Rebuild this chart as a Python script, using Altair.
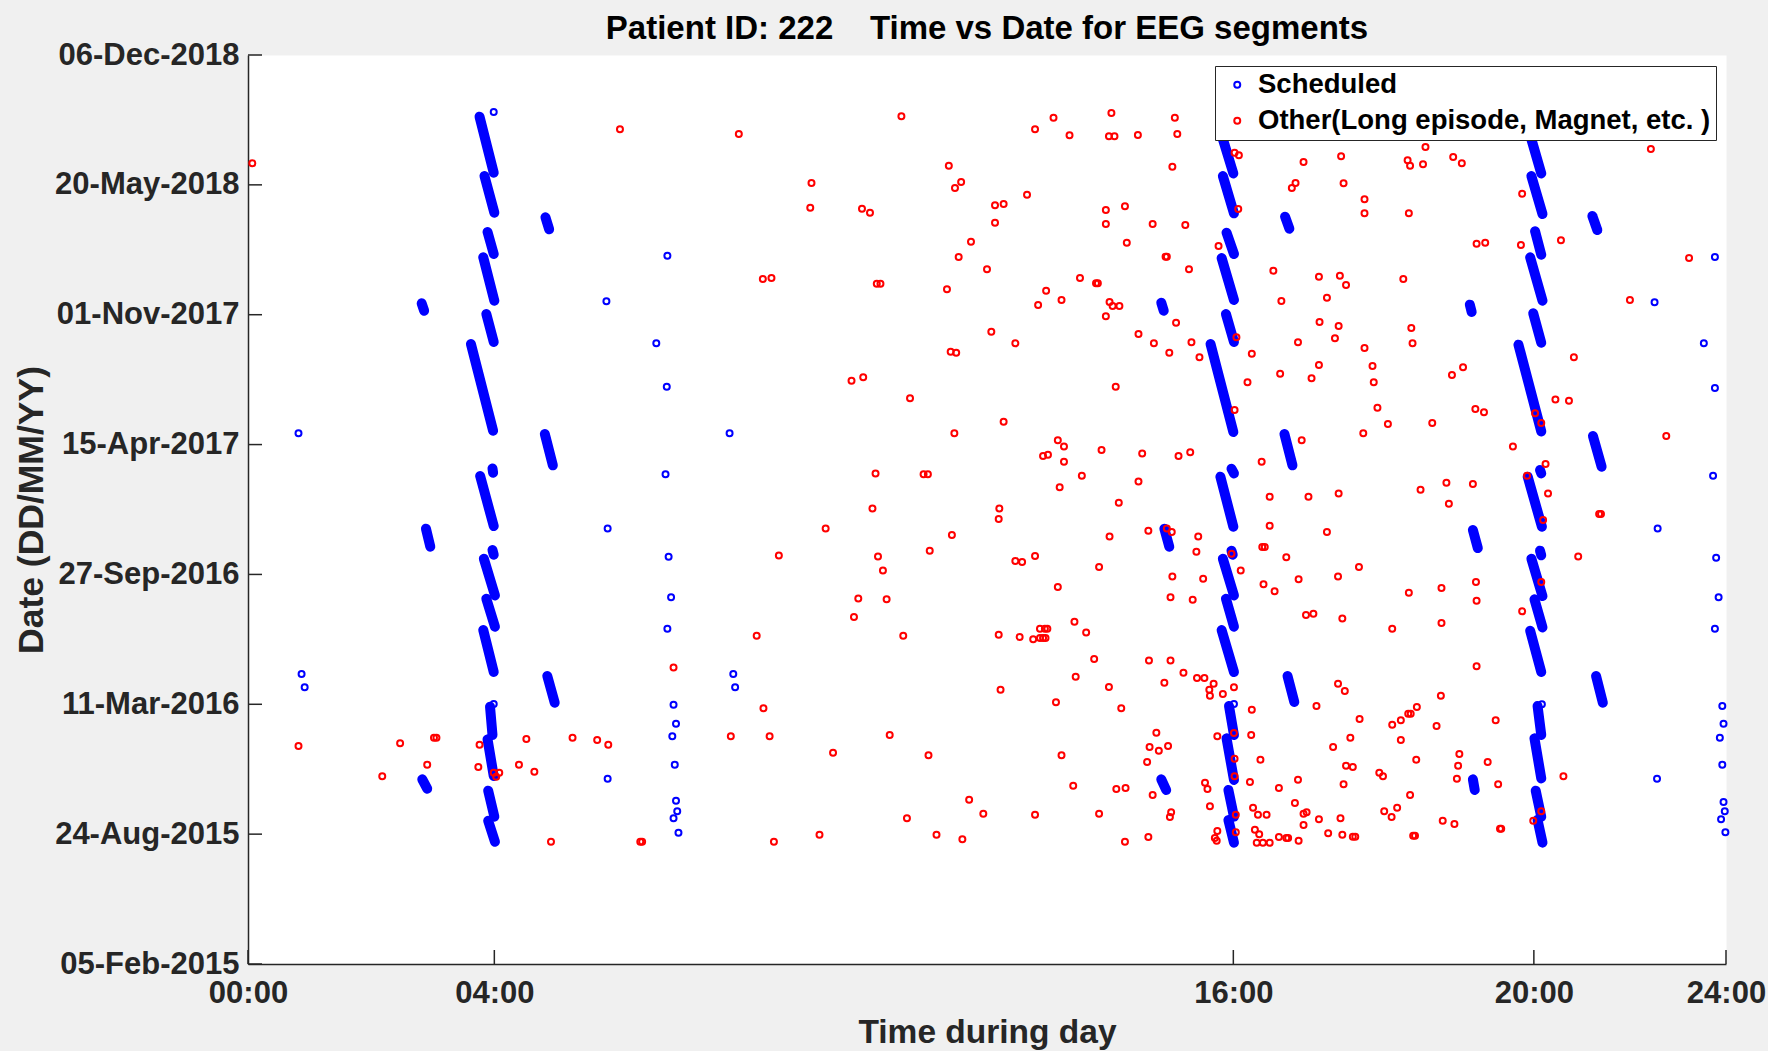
import altair as alt
import pandas as pd

# ---------------- data ----------------
# time of day in hours (0-24), date as days after 05-Feb-2015
START_DATE = "2015-02-05"

# "Scheduled" single recordings: (hour, day)
sched_points = [
    (3.99, 1312.2), (5.82, 1020.6), (6.81, 1090.9), (6.63, 955.9), (23.82, 1088.9),
    (22.84, 1019.1), (23.64, 955.9), (0.82, 817.3), (5.84, 670.9), (0.87, 446.6),
    (6.80, 889.1), (7.82, 817.3), (6.78, 754.1), (6.83, 627.3), (6.87, 564.7),
    (6.81, 516.4), (7.88, 446.6), (23.82, 887.1), (23.79, 752.0), (22.89, 670.9),
    (23.84, 625.8), (23.88, 564.7), (23.82, 516.4), (0.92, 426.1), (3.99, 400.4),
    (5.84, 285.4), (7.91, 426.1), (6.91, 399.4), (6.95, 370.1), (6.89, 350.6),
    (6.93, 307.0), (6.95, 251.5), (6.97, 235.1), (6.91, 224.3), (6.99, 202.3),
    (16.01, 400.4), (21.01, 399.9), (23.94, 397.4), (23.96, 370.1), (23.90, 348.6),
    (23.94, 307.0), (22.88, 285.4), (23.96, 249.5), (23.98, 235.1), (23.92, 222.8),
    (23.99, 202.8),
]

# "Scheduled" daily runs that merge into streaks: (hour1, day1, hour2, day2)
sched_streaks = [
    (3.76, 1305.0, 3.99, 1218.8), (3.84, 1213.6, 4.00, 1157.2), (3.89, 1127.4, 3.99, 1093.5),
    (3.82, 1088.4, 4.00, 1021.6), (3.87, 1001.1, 3.99, 958.0), (3.62, 954.9, 3.98, 821.4),
    (4.83, 1150.0, 4.89, 1131.5), (2.82, 1017.5, 2.86, 1006.2),
    (15.81, 1276.8, 16.00, 1217.7), (15.83, 1213.6, 16.01, 1156.1), (15.89, 1126.4, 16.01, 1093.5),
    (15.81, 1087.3, 16.01, 1022.7), (15.88, 1001.1, 16.01, 958.0), (15.63, 954.9, 16.00, 819.3),
    (14.83, 1018.5, 14.87, 1006.2), (16.84, 1151.0, 16.91, 1132.5),
    (20.82, 1276.8, 21.00, 1217.7), (20.84, 1213.6, 21.02, 1155.1), (20.90, 1128.4, 21.00, 1092.5),
    (20.82, 1088.4, 21.02, 1021.6), (20.87, 1002.1, 21.00, 956.9), (20.63, 953.9, 21.00, 820.3),
    (21.83, 1152.0, 21.91, 1130.5), (19.84, 1015.5, 19.87, 1004.2),
    (4.82, 816.2, 4.95, 768.0), (3.97, 763.3, 3.98, 756.7), (3.77, 751.5, 3.99, 674.5),
    (2.89, 670.4, 2.96, 642.7), (3.97, 637.6, 3.99, 630.4), (3.83, 624.2, 4.01, 567.7),
    (3.87, 562.6, 4.01, 519.5), (3.82, 514.3, 3.99, 449.7), (4.86, 443.6, 4.98, 402.5),
    (16.83, 816.2, 16.96, 768.0), (15.97, 762.8, 16.01, 755.6), (15.79, 750.5, 16.00, 673.5),
    (14.88, 670.4, 14.96, 642.7), (15.97, 636.6, 15.99, 630.4), (15.83, 624.2, 16.01, 567.7),
    (15.88, 562.6, 16.01, 519.5), (15.81, 514.3, 16.01, 449.7), (16.88, 443.6, 16.99, 403.5),
    (21.84, 813.1, 21.98, 765.9), (20.98, 760.8, 21.00, 755.6), (20.78, 750.5, 21.01, 673.5),
    (19.89, 668.4, 19.97, 640.6), (20.98, 636.6, 21.00, 629.4), (20.84, 624.2, 21.02, 566.7),
    (20.89, 561.6, 21.02, 518.4), (20.82, 513.3, 21.00, 449.7), (21.89, 443.6, 22.00, 402.5),
    (3.93, 396.3, 3.97, 352.7), (3.89, 346.0, 3.99, 289.5), (3.90, 267.0, 4.00, 226.9),
    (3.90, 220.7, 4.01, 188.4), (2.83, 284.4, 2.91, 270.0),
    (14.83, 284.4, 14.91, 268.0), (15.93, 397.4, 16.01, 352.7), (15.89, 347.6, 16.01, 283.4),
    (15.92, 268.0, 16.01, 226.9), (15.92, 221.8, 16.01, 186.9),
    (19.89, 284.4, 19.92, 268.0), (20.94, 397.4, 21.00, 352.7), (20.89, 347.6, 21.00, 285.9),
    (20.91, 267.0, 21.00, 226.9), (20.94, 221.8, 21.02, 186.9),
]

# "Other" recordings: (hour, day)
other_points = [
    (0.07, 1233.1),
    (6.04, 1285.5), (7.97, 1278.3), (10.61, 1305.5), (11.38, 1229.6), (11.58, 1204.4),
    (11.48, 1195.2), (9.15, 1202.9), (9.13, 1164.9), (9.97, 1163.3), (10.10, 1157.2),
    (11.54, 1088.9), (8.36, 1055.0), (8.50, 1056.5), (10.21, 1047.8), (10.27, 1047.8),
    (11.35, 1039.1), (11.41, 943.1), (11.50, 941.5),
    (12.78, 1285.5), (13.08, 1303.5), (13.34, 1276.3), (14.02, 1310.7), (13.98, 1274.7),
    (14.07, 1274.7), (14.45, 1276.8), (15.05, 1303.5), (15.09, 1278.3), (15.01, 1228.0),
    (16.02, 1249.6), (16.09, 1245.5), (17.14, 1235.2), (17.01, 1202.9), (16.95, 1195.2),
    (12.65, 1184.9), (12.13, 1168.5), (12.27, 1170.5), (12.13, 1141.8), (11.74, 1112.5),
    (13.93, 1161.3), (14.24, 1166.9), (13.93, 1139.7), (14.69, 1139.7), (15.22, 1138.2),
    (16.08, 1162.8), (14.27, 1111.0), (14.90, 1089.4), (14.92, 1089.4), (15.76, 1105.8),
    (12.00, 1069.9), (15.28, 1069.9), (16.65, 1067.8), (17.39, 1058.6), (17.40, 988.8),
    (17.05, 957.4), (17.39, 922.5), (13.51, 1056.5), (13.77, 1048.3), (13.80, 1048.3),
    (12.96, 1037.0), (13.21, 1022.7), (12.83, 1014.9), (13.99, 1019.6), (14.04, 1013.4),
    (14.15, 1013.4), (13.93, 997.5), (15.07, 987.7), (16.05, 965.1), (16.78, 1021.1),
    (12.07, 973.9), (12.46, 955.9), (14.46, 970.3), (14.71, 955.9), (14.96, 941.5),
    (15.32, 957.4), (15.45, 934.3), (16.30, 940.0),
    (17.75, 1243.9), (19.12, 1258.3), (18.83, 1237.8), (18.87, 1229.6), (19.08, 1231.6),
    (19.57, 1242.9), (19.71, 1233.1), (17.79, 1202.3), (18.13, 1177.7), (18.13, 1156.1),
    (18.85, 1156.1), (20.69, 1186.4), (22.78, 1255.2), (19.95, 1109.4), (20.09, 1111.0),
    (20.67, 1107.4), (21.32, 1114.5), (23.40, 1087.3), (17.73, 1060.1), (17.83, 1045.8),
    (17.52, 1026.2), (18.76, 1055.0), (17.71, 982.6), (17.65, 963.6), (18.89, 979.5),
    (18.91, 955.9), (18.13, 948.7), (18.26, 921.0), (19.73, 918.9), (21.53, 934.3),
    (22.44, 1022.7),
    (9.80, 898.4), (9.99, 903.5), (10.75, 871.2), (11.47, 817.3), (10.19, 755.6),
    (10.97, 754.1), (11.04, 754.1), (10.14, 701.7), (9.38, 670.9), (11.43, 660.7),
    (11.07, 636.5), (8.62, 629.3), (10.23, 627.8), (10.31, 606.2), (9.91, 563.1),
    (10.37, 561.6), (9.84, 534.4), (10.64, 505.6), (8.26, 505.6), (6.91, 456.8),
    (14.09, 889.1), (12.27, 835.2), (13.15, 806.5), (13.25, 797.2), (12.91, 782.3),
    (12.99, 784.4), (13.25, 773.6), (13.86, 791.6), (14.52, 786.4), (15.11, 782.3),
    (15.30, 788.0), (13.54, 752.0), (13.18, 734.1), (14.46, 743.3), (14.14, 710.5),
    (12.20, 701.7), (12.19, 685.3), (13.99, 658.6), (14.62, 667.3), (14.92, 670.9),
    (15.00, 665.3), (15.43, 658.6), (15.40, 635.0), (12.46, 620.6), (12.57, 619.1),
    (12.78, 628.3), (13.82, 611.4), (13.15, 580.6), (15.01, 597.0), (15.51, 593.4),
    (14.98, 564.7), (15.34, 561.1), (16.02, 853.2), (16.23, 895.8), (16.76, 909.2),
    (17.27, 902.0), (17.11, 806.5), (16.46, 773.6), (16.59, 719.7), (17.22, 719.7),
    (16.59, 675.0), (16.47, 642.2), (16.51, 642.2), (15.97, 631.9), (16.12, 606.2),
    (16.86, 626.3), (17.06, 592.4), (16.49, 584.7), (16.67, 573.9), (17.18, 537.4),
    (17.30, 539.5), (12.19, 507.2), (12.53, 503.6), (12.75, 500.0), (12.86, 516.4),
    (12.94, 516.4), (12.98, 516.4), (12.86, 502.0), (12.91, 502.0), (12.95, 502.0),
    (13.42, 527.2), (13.61, 510.7), (13.74, 469.7), (14.63, 467.6), (14.98, 467.6),
    (15.19, 448.6),
    (19.55, 907.1), (18.28, 895.8), (18.34, 856.8), (18.51, 831.6), (18.11, 817.3),
    (19.23, 833.2), (19.93, 854.7), (20.07, 849.6), (21.23, 869.6), (21.45, 867.6),
    (20.90, 848.1), (21.00, 833.2), (23.03, 813.1), (20.54, 797.2), (21.07, 770.0),
    (20.77, 752.0), (21.11, 724.8), (21.03, 683.8), (21.94, 693.0), (21.97, 693.0),
    (17.71, 724.8), (19.04, 730.5), (19.46, 741.3), (19.89, 739.2), (19.50, 708.9),
    (17.52, 665.3), (21.60, 627.8), (18.04, 611.4), (17.70, 597.0), (18.85, 571.8),
    (19.38, 579.0), (19.94, 588.3), (19.95, 559.5), (21.00, 588.3), (20.69, 543.1),
    (17.77, 532.3), (18.58, 516.4), (19.38, 525.1), (19.95, 458.4),
    (0.82, 335.7), (2.47, 339.9), (2.18, 289.0), (3.02, 348.6), (3.06, 348.6),
    (2.91, 307.0), (3.76, 337.8), (3.74, 303.4), (3.99, 294.7), (4.08, 294.7),
    (4.03, 288.5), (4.52, 346.5), (4.40, 307.0), (4.65, 296.2), (5.27, 348.6),
    (5.67, 345.0), (5.85, 337.8), (4.92, 188.4),
    (8.37, 393.8), (7.84, 350.6), (8.47, 350.6), (9.50, 325.5), (10.42, 352.7),
    (11.05, 321.4), (10.70, 224.3), (11.18, 199.2), (11.60, 192.0), (6.37, 188.4),
    (6.40, 188.4), (8.54, 188.4), (9.28, 199.2),
    (13.44, 442.5), (12.22, 422.5), (13.98, 426.6), (13.12, 403.0), (14.18, 393.8),
    (14.88, 433.3), (15.41, 440.5), (15.53, 440.5), (15.68, 431.8), (15.61, 422.5),
    (15.62, 413.3), (15.83, 415.8), (16.01, 426.1), (16.30, 391.7), (17.35, 397.4),
    (14.75, 356.3), (14.64, 334.2), (14.79, 328.6), (14.94, 335.7), (14.60, 311.1),
    (15.74, 350.6), (16.01, 355.8), (16.29, 352.7), (16.02, 316.2), (16.02, 289.0),
    (16.44, 314.7), (13.21, 321.4), (13.40, 274.6), (14.10, 269.5), (14.25, 271.1),
    (14.69, 260.3), (15.54, 279.3), (15.58, 269.5), (16.27, 280.3), (16.74, 271.1),
    (17.05, 283.9), (11.71, 253.1), (11.94, 231.5), (12.78, 230.0), (13.82, 231.5),
    (14.99, 233.6), (14.97, 226.4), (15.62, 242.8), (16.04, 230.0), (16.32, 240.8),
    (16.40, 230.0), (16.54, 230.0), (17.00, 248.0), (17.14, 231.5), (17.19, 233.6),
    (17.39, 222.8), (17.14, 214.1), (14.24, 188.4), (14.62, 195.6), (15.74, 204.8),
    (15.70, 194.0), (15.73, 190.0), (16.04, 202.8), (16.35, 206.9), (16.42, 199.7),
    (16.38, 186.9), (16.48, 186.9), (16.59, 186.9), (16.74, 195.6), (16.86, 194.0),
    (16.89, 194.0), (17.06, 190.0),
    (17.70, 431.8), (17.81, 420.5), (19.37, 413.3), (18.98, 395.8), (18.84, 385.5),
    (18.88, 385.5), (18.72, 375.3), (18.58, 368.6), (18.05, 377.3), (17.90, 348.6),
    (17.62, 334.2), (18.72, 345.0), (19.30, 366.5), (20.26, 375.3), (19.67, 323.4),
    (19.65, 305.5), (20.13, 311.1), (19.63, 285.4), (20.30, 276.7), (18.97, 314.7),
    (17.83, 305.5), (17.94, 303.4), (18.37, 294.7), (18.43, 289.0), (17.79, 276.7),
    (18.87, 260.3), (18.66, 240.8), (18.45, 235.1), (18.57, 226.4), (17.74, 224.3),
    (17.54, 201.2), (17.77, 199.2), (17.94, 196.1), (17.98, 196.1), (18.92, 197.6),
    (18.95, 197.6), (19.40, 220.7), (19.59, 215.6), (20.33, 208.4), (20.35, 208.4),
    (21.36, 289.0), (21.00, 235.1), (20.87, 220.7),
]

series_names = ["Scheduled", "Other(Long episode, Magnet, etc. )"]
series_colors = ["#0000ff", "#ff0000"]

date_ticks = ["2015-02-05", "2015-08-24", "2016-03-11", "2016-09-27",
              "2017-04-15", "2017-11-01", "2018-05-20", "2018-12-06"]
x_tick_vals = [0, 4, 16, 20.88, 24]
x_tick_labels = ["00:00", "04:00", "16:00", "20:00", "24:00"]

title_text = "Patient ID: 222\u00a0\u00a0\u00a0\u00a0Time vs Date for EEG segments"
x_title = "Time during day"
y_title = "Date (DD/MM/YY)"

# ---------------- tables ----------------
base = pd.Timestamp(START_DATE, tz="UTC")


def iso(days):
    return (base + pd.to_timedelta(days, unit="D")).strftime("%Y-%m-%dT%H:%M:%SZ")


def ms(s):
    return int(pd.Timestamp(s, tz="UTC").value // 10**6)


pts = pd.DataFrame(
    [{"hour": h, "date": iso(d), "series": series_names[0]} for h, d in sched_points]
    + [{"hour": h, "date": iso(d), "series": series_names[1]} for h, d in other_points]
)
segs = pd.DataFrame(
    [{"hour": h1, "date": iso(d1), "hour2": h2, "date2": iso(d2)} for h1, d1, h2, d2 in sched_streaks]
)
xt = pd.DataFrame({"hour": x_tick_vals})
yt = pd.DataFrame({"date": [pd.Timestamp(s, tz="UTC").strftime("%Y-%m-%dT%H:%M:%SZ") for s in date_ticks]})
tt = pd.DataFrame({"t": [title_text]})

FONT = "Liberation Sans"
AX = "#262626"
W, H = 1478, 909

x_scale = alt.Scale(domain=[0, 24], nice=False, zero=False)
y_scale = alt.Scale(type="utc", domain=[ms(date_ticks[0]), ms(date_ticks[-1])], nice=False)

x_label_expr = "[{}][indexof([{}], datum.value)]".format(
    ",".join("'%s'" % s for s in x_tick_labels), ",".join(str(v) for v in x_tick_vals)
)
y_label_expr = "utcFormat(datum.value, '%d-%b-%Y')"

x_axis = alt.Axis(
    values=x_tick_vals, labelExpr=x_label_expr, ticks=False, grid=False,
    domainColor=AX, domainWidth=1.5, labelFont=FONT, labelFontSize=31,
    labelFontWeight="bold", labelColor=AX, labelPadding=14, labelFlush=False,
    labelOverlap=False, labelLimit=400, title=x_title, titleFont=FONT, titleFontSize=33.5,
    titleFontWeight="bold", titleColor=AX, titleBaseline="alphabetic", titleY=78,
    titleX=W / 2, titleAlign="center",
)
y_axis = alt.Axis(
    values=[ms(s) for s in date_ticks], labelExpr=y_label_expr,
    ticks=False, grid=False, domainColor=AX, domainWidth=1.5, labelFont=FONT,
    labelFontSize=31, labelFontWeight="bold", labelColor=AX, labelPadding=9,
    labelFlush=False, labelOverlap=False, labelLimit=400, title=y_title, titleFont=FONT,
    titleFontSize=35.5, titleFontWeight="bold", titleColor=AX, titleAngle=270,
    titleBaseline="alphabetic", titleAlign="center", titleX=-206, titleY=H / 2,
    titleLimit=600,
)


def X(field="hour"):
    return alt.X(f"{field}:Q", scale=x_scale, axis=x_axis)


def Y(field="date"):
    return alt.Y(f"{field}:T", scale=y_scale, axis=y_axis)


streaks = alt.Chart(segs).mark_rule(color="#0000ff", strokeWidth=10, strokeCap="round").encode(
    x=X(), x2="hour2:Q", y=Y(), y2="date2:T",
)

points = alt.Chart(pts).mark_point(shape="circle", filled=False, size=36, strokeWidth=2, opacity=1).encode(
    x=X(),
    y=Y(),
    color=alt.Color(
        "series:N",
        scale=alt.Scale(domain=series_names, range=series_colors),
        legend=alt.Legend(
            title=None, orient="none", legendX=967, legendY=11, direction="vertical",
            fillColor="white", strokeColor=AX, padding=5, labelFont=FONT,
            labelFontSize=27.5, labelFontWeight="bold", labelColor="black",
            symbolType="circle", symbolSize=36, symbolStrokeWidth=2, symbolOffset=3.5,
            labelOffset=7, rowPadding=7, labelLimit=1000,
        ),
    ),
)

xticks = alt.Chart(xt).mark_rule(color=AX, strokeWidth=1.5).encode(
    x=X(), y=alt.value(H), y2=alt.value(H - 14)
)
yticks = alt.Chart(yt).mark_rule(color=AX, strokeWidth=1.5).encode(
    y=Y(), x=alt.value(0), x2=alt.value(14)
)

title = alt.Chart(tt).mark_text(
    font=FONT, fontSize=33, fontWeight="bold", color="black", align="center",
    baseline="alphabetic",
).encode(text="t:N", x=alt.value(W / 2), y=alt.value(-16))

chart = (
    alt.layer(streaks, points, xticks, yticks, title)
    .properties(
        width=W, height=H,
        autosize=alt.AutoSizeParams(type="none"),
        padding={"left": 248, "top": 55, "right": 42, "bottom": 87},
        background="#f0f0f0",
    )
    .configure_view(fill="white", stroke="transparent")
)

chart.save("out.html", embed_options={"renderer": "svg", "actions": False})
